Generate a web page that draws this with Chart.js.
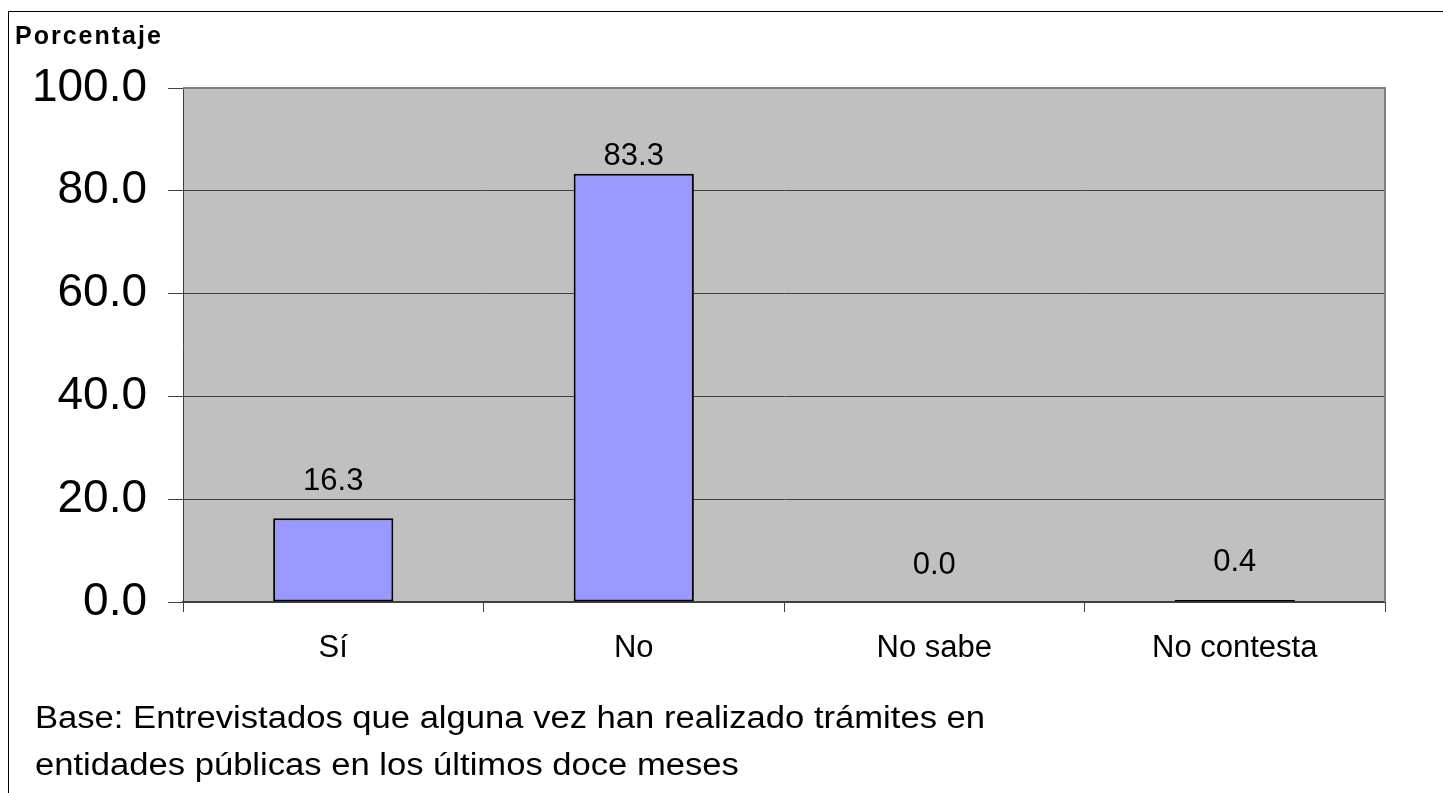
<!DOCTYPE html>
<html>
<head>
<meta charset="utf-8">
<script src="https://cdn.jsdelivr.net/npm/chart.js@4.4.1/dist/chart.umd.min.js"></script>
<style>
  html,body{margin:0;padding:0;background:#fff;}
  #wrap{position:relative;width:1443px;height:793px;overflow:hidden;}
  canvas{position:absolute;left:0;top:0;}
  #ytitle{position:absolute;left:15px;top:23px;font:bold 25px/25px "Liberation Sans",Arial,sans-serif;color:#000;letter-spacing:2px;white-space:nowrap;}
  #foot{position:absolute;left:35px;top:694px;font:31px "Liberation Sans",Arial,sans-serif;line-height:47px;color:#000;white-space:nowrap;transform:scaleX(1.116);transform-origin:0 0;}
</style>
</head>
<body>
<div id="wrap">
<canvas id="c" width="1443" height="793"></canvas>
<div id="ytitle">Porcentaje</div>
<div id="foot">Base: Entrevistados que alguna vez han realizado trámites en<br>entidades públicas en los últimos doce meses</div>
</div>
<script>
const categories = ["Sí", "No", "No sabe", "No contesta"];
const values = [16.3, 83.3, 0.0, 0.4];
const yTicks = [0, 20, 40, 60, 80, 100];

const FONT = '"Liberation Sans", Arial, sans-serif';

const frame = {
  id: 'frame',
  beforeDraw(chart) {
    const {ctx, chartArea: a} = chart;
    ctx.save();
    ctx.fillStyle = '#C0C0C0';
    ctx.fillRect(a.left, a.top, a.right - a.left, a.bottom - a.top);
    ctx.restore();
  },
  afterDraw(chart) {
    const {ctx, chartArea: a} = chart;
    ctx.save();
    ctx.strokeStyle = '#808080';
    ctx.lineWidth = 2;
    ctx.beginPath();
    ctx.moveTo(a.left, a.top);
    ctx.lineTo(a.right, a.top);
    ctx.lineTo(a.right, a.bottom);
    ctx.stroke();
    ctx.strokeStyle = '#000';
    ctx.lineWidth = 1;
    ctx.strokeRect(8.5, 11.5, 1460, 820);
    ctx.restore();
  }
};

const barLabels = {
  id: 'barLabels',
  afterDatasetsDraw(chart, args, opts) {
    const {ctx} = chart;
    const meta = chart.getDatasetMeta(0);
    ctx.save();
    ctx.font = opts.font;
    ctx.fillStyle = '#000';
    ctx.textAlign = 'center';
    ctx.textBaseline = 'middle';
    meta.data.forEach((bar, i) => {
      const v = chart.data.datasets[0].data[i];
      ctx.fillText(v.toFixed(1), bar.x, bar.y - opts.offsets[i]);
    });
    ctx.restore();
  }
};

new Chart(document.getElementById('c'), {
  type: 'bar',
  data: {
    labels: categories,
    datasets: [{
      data: values,
      backgroundColor: '#9999FF',
      borderColor: '#000000',
      borderWidth: 2,
      borderSkipped: false,
      barPercentage: 0.4,
      categoryPercentage: 1.0
    }]
  },
  options: {
    responsive: false,
    animation: false,
    layout: {padding: {top: 88, right: 58, left: 0, bottom: 0}},
    plugins: {
      legend: {display: false},
      tooltip: {enabled: false},
      barLabels: {font: '31px ' + FONT, offsets: [37, 17, 37, 37]}
    },
    scales: {
      x: {
        afterFit(s) { s.height = 191; },
        grid: {offset: true, drawOnChartArea: false, tickLength: 10, color: '#404040', lineWidth: 1},
        border: {color: '#404040', width: 2},
        ticks: {font: {family: FONT, size: 31}, color: '#000', padding: 18}
      },
      y: {
        min: 0, max: 100,
        afterFit(s) { s.width = 183; },
        afterBuildTicks(s) { s.ticks = yTicks.map(v => ({value: v})); },
        grid: {color: '#404040', lineWidth: 1, tickLength: 15},
        border: {color: '#404040', width: 1},
        ticks: {font: {family: FONT, size: 46}, color: '#000', padding: 21,
                callback: v => Number(v).toFixed(1)}
      }
    }
  },
  plugins: [frame, barLabels]
});
</script>
</body>
</html>
